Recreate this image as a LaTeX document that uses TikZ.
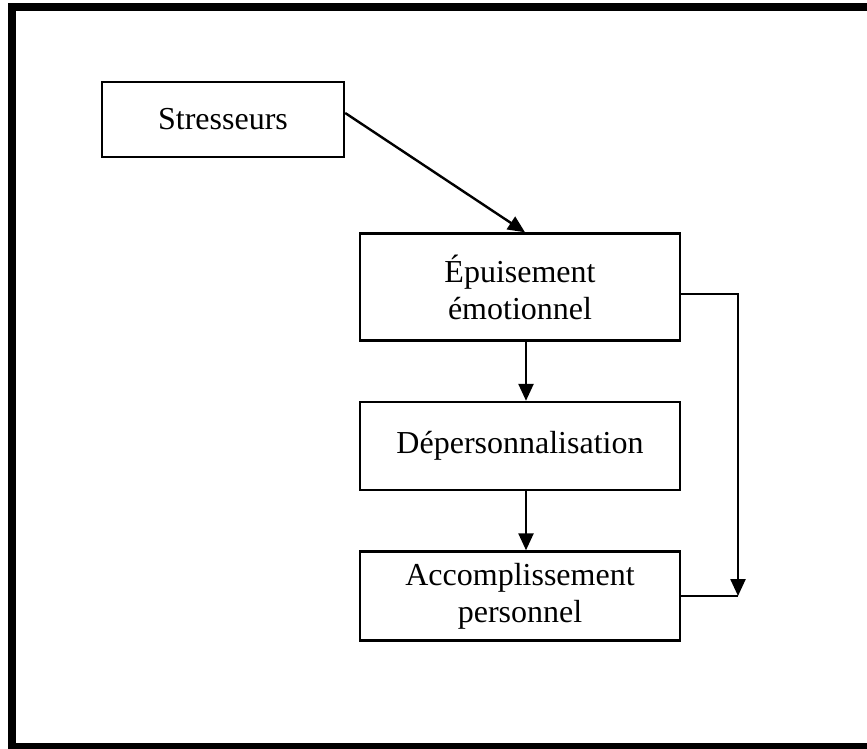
\documentclass[tikz,border=0pt]{standalone}
\usepackage{fontspec}
\setmainfont{Liberation Serif}
\usetikzlibrary{arrows.meta}
\begin{document}
\begin{tikzpicture}[x=1pt,y=-1pt,
  box/.style={draw,line width=2.4pt,minimum width=320pt,align=center,inner sep=0pt,
    font=\fontsize{32}{37}\selectfont},
  conn/.style={line width=2.4pt},
  arr/.style={conn,-{Triangle[length=17pt,width=15pt]}}]
\useasboundingbox (0,0) rectangle (867,749);
\clip (0,0) rectangle (867,749);
\draw[line width=8pt] (12,7) rectangle (880,747);
\node[box,minimum width=242pt,minimum height=75pt] (s) at (223,119.5) {Stresseurs};
\node[box,minimum height=107pt] (e) at (520,287) {Épuisement\\émotionnel};
\node[box,minimum height=88pt] (d) at (520,446) {Dépersonnalisation};
\node[box,minimum height=89pt] (a) at (520,596) {Accomplissement\\personnel};
\coordinate (c) at (738,596);
\draw[arr] ([yshift=6.5pt]s.east) -- ([xshift=5pt]e.north);
\draw[arr] ([xshift=6pt]e.south) -- ([xshift=6pt]d.north);
\draw[arr] ([xshift=6pt]d.south) -- ([xshift=6pt]a.north);
\draw[arr] ([yshift=-7pt]e.east) -| (c);
\draw[conn] (a.east) -- (c);
\end{tikzpicture}
\end{document}
